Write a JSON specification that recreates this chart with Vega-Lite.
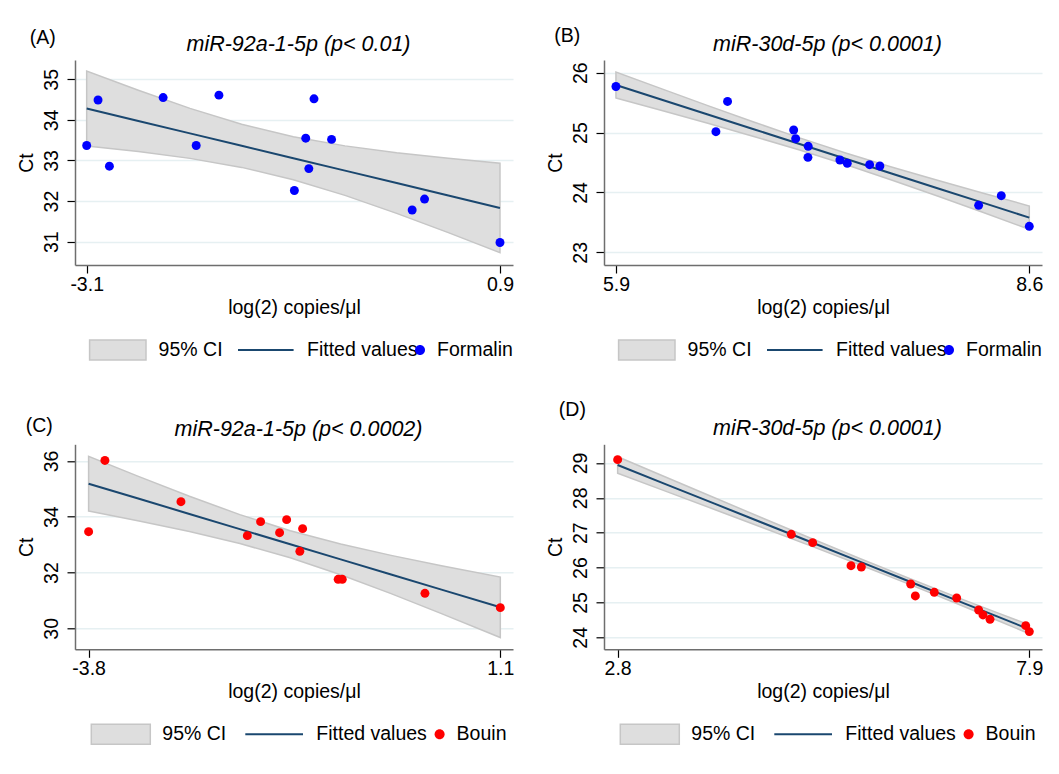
{
  "$schema": "https://vega.github.io/schema/vega-lite/v6.json",
  "background": "white",
  "padding": {"left": 16, "top": 26, "right": 0, "bottom": 0},
  "config": {
    "font": "Liberation Sans",
    "view": {"stroke": null},
    "axis": {"labelFont": "Liberation Sans", "titleFont": "Liberation Sans", "labelFontSize": 19.5, "titleFontSize": 19.5, "labelColor": "black", "titleColor": "black", "titleFontWeight": "normal", "tickColor": "black", "tickWidth": 1.2, "tickSize": 8, "domainColor": "#6e6e6e", "domainWidth": 1.5, "gridColor": "#e6f0f2", "gridWidth": 1.5},
    "title": {"font": "Liberation Sans", "fontSize": 19.5, "fontWeight": "normal", "color": "black"},
    "legend": {"labelFont": "Liberation Sans", "labelFontSize": 19.5, "labelColor": "black", "padding": 0, "symbolSize": 400, "labelOffset": 6, "labelLimit": 400, "direction": "horizontal", "orient": "none", "title": null}
  },
  "datasets": {
    "pts": [
      {"p": "A", "x": -3.1, "y": 33.37}, {"p": "A", "x": -2.99, "y": 34.49}, {"p": "A", "x": -2.88, "y": 32.86}, {"p": "A", "x": -2.36, "y": 34.55}, {"p": "A", "x": -2.04, "y": 33.37}, {"p": "A", "x": -1.82, "y": 34.61}, {"p": "A", "x": -1.09, "y": 32.26}, {"p": "A", "x": -0.98, "y": 33.55}, {"p": "A", "x": -0.95, "y": 32.8}, {"p": "A", "x": -0.9, "y": 34.52}, {"p": "A", "x": -0.73, "y": 33.52}, {"p": "A", "x": 0.05, "y": 31.78}, {"p": "A", "x": 0.17, "y": 32.05}, {"p": "A", "x": 0.9, "y": 30.98},
      {"p": "B", "x": 5.9, "y": 25.77}, {"p": "B", "x": 6.553, "y": 25.015}, {"p": "B", "x": 6.629, "y": 25.52}, {"p": "B", "x": 7.061, "y": 25.043}, {"p": "B", "x": 7.074, "y": 24.898}, {"p": "B", "x": 7.156, "y": 24.77}, {"p": "B", "x": 7.154, "y": 24.586}, {"p": "B", "x": 7.363, "y": 24.542}, {"p": "B", "x": 7.411, "y": 24.486}, {"p": "B", "x": 7.557, "y": 24.464}, {"p": "B", "x": 7.624, "y": 24.442}, {"p": "B", "x": 8.269, "y": 23.785}, {"p": "B", "x": 8.417, "y": 23.946}, {"p": "B", "x": 8.6, "y": 23.434},
      {"p": "C", "x": -3.8, "y": 33.466}, {"p": "C", "x": -3.606, "y": 36.02}, {"p": "C", "x": -2.701, "y": 34.542}, {"p": "C", "x": -1.911, "y": 33.323}, {"p": "C", "x": -1.753, "y": 33.825}, {"p": "C", "x": -1.527, "y": 33.43}, {"p": "C", "x": -1.443, "y": 33.897}, {"p": "C", "x": -1.253, "y": 33.574}, {"p": "C", "x": -1.286, "y": 32.761}, {"p": "C", "x": -0.83, "y": 31.757}, {"p": "C", "x": -0.781, "y": 31.757}, {"p": "C", "x": 0.203, "y": 31.255}, {"p": "C", "x": 1.1, "y": 30.741},
      {"p": "D", "x": 2.8, "y": 29.096}, {"p": "D", "x": 4.951, "y": 26.954}, {"p": "D", "x": 5.216, "y": 26.715}, {"p": "D", "x": 5.691, "y": 26.055}, {"p": "D", "x": 5.819, "y": 26.017}, {"p": "D", "x": 6.43, "y": 25.53}, {"p": "D", "x": 6.488, "y": 25.186}, {"p": "D", "x": 6.723, "y": 25.291}, {"p": "D", "x": 7.0, "y": 25.128}, {"p": "D", "x": 7.272, "y": 24.784}, {"p": "D", "x": 7.326, "y": 24.641}, {"p": "D", "x": 7.413, "y": 24.516}, {"p": "D", "x": 7.855, "y": 24.335}, {"p": "D", "x": 7.9, "y": 24.163}
    ],
    "fit": [
      {"p": "A", "x": -3.1, "fit": 34.28, "lo": 33.355, "hi": 35.205}, {"p": "A", "x": -2.6, "fit": 33.974, "lo": 33.219, "hi": 34.729}, {"p": "A", "x": -2.1, "fit": 33.668, "lo": 33.052, "hi": 34.284}, {"p": "A", "x": -1.6, "fit": 33.362, "lo": 32.83, "hi": 33.894}, {"p": "A", "x": -1.1, "fit": 33.056, "lo": 32.526, "hi": 33.586}, {"p": "A", "x": -0.6, "fit": 32.75, "lo": 32.14, "hi": 33.36}, {"p": "A", "x": -0.1, "fit": 32.444, "lo": 31.697, "hi": 33.191}, {"p": "A", "x": 0.4, "fit": 32.138, "lo": 31.222, "hi": 33.054}, {"p": "A", "x": 0.9, "fit": 31.83, "lo": 30.729, "hi": 32.931},
      {"p": "B", "x": 5.9, "fit": 25.794, "lo": 25.578, "hi": 26.01}, {"p": "B", "x": 6.2, "fit": 25.548, "lo": 25.367, "hi": 25.729}, {"p": "B", "x": 6.5, "fit": 25.302, "lo": 25.154, "hi": 25.45}, {"p": "B", "x": 6.8, "fit": 25.056, "lo": 24.935, "hi": 25.177}, {"p": "B", "x": 7.1, "fit": 24.809, "lo": 24.708, "hi": 24.911}, {"p": "B", "x": 7.4, "fit": 24.563, "lo": 24.466, "hi": 24.66}, {"p": "B", "x": 7.7, "fit": 24.317, "lo": 24.209, "hi": 24.425}, {"p": "B", "x": 8.0, "fit": 24.071, "lo": 23.94, "hi": 24.202}, {"p": "B", "x": 8.3, "fit": 23.825, "lo": 23.664, "hi": 23.986}, {"p": "B", "x": 8.6, "fit": 23.579, "lo": 23.384, "hi": 23.774},
      {"p": "C", "x": -3.8, "fit": 35.187, "lo": 34.206, "hi": 36.168}, {"p": "C", "x": -3.2, "fit": 34.644, "lo": 33.849, "hi": 35.439}, {"p": "C", "x": -2.6, "fit": 34.101, "lo": 33.468, "hi": 34.734}, {"p": "C", "x": -2.0, "fit": 33.558, "lo": 33.039, "hi": 34.077}, {"p": "C", "x": -1.4, "fit": 33.015, "lo": 32.528, "hi": 33.502}, {"p": "C", "x": -0.8, "fit": 32.472, "lo": 31.92, "hi": 33.024}, {"p": "C", "x": -0.2, "fit": 31.929, "lo": 31.242, "hi": 32.616}, {"p": "C", "x": 0.4, "fit": 31.386, "lo": 30.527, "hi": 32.245}, {"p": "C", "x": 1.1, "fit": 30.753, "lo": 29.669, "hi": 31.837},
      {"p": "D", "x": 2.8, "fit": 28.943, "lo": 28.707, "hi": 29.179}, {"p": "D", "x": 3.4, "fit": 28.388, "lo": 28.186, "hi": 28.59}, {"p": "D", "x": 4.0, "fit": 27.834, "lo": 27.666, "hi": 28.002}, {"p": "D", "x": 4.6, "fit": 27.279, "lo": 27.142, "hi": 27.416}, {"p": "D", "x": 5.2, "fit": 26.725, "lo": 26.615, "hi": 26.834}, {"p": "D", "x": 5.8, "fit": 26.17, "lo": 26.08, "hi": 26.26}, {"p": "D", "x": 6.4, "fit": 25.616, "lo": 25.533, "hi": 25.699}, {"p": "D", "x": 7.0, "fit": 25.061, "lo": 24.969, "hi": 25.153}, {"p": "D", "x": 7.5, "fit": 24.599, "lo": 24.489, "hi": 24.709}, {"p": "D", "x": 7.9, "fit": 24.229, "lo": 24.102, "hi": 24.356}
    ]
  },
  "columns": 2,
  "spacing": {"row": 179.3, "column": 91},
  "bounds": "flush",
  "resolve": {"scale": {"x": "independent", "y": "independent", "color": "independent", "fill": "independent", "stroke": "independent"}, "axis": {"x": "independent", "y": "independent"}, "legend": {"color": "independent", "fill": "independent", "stroke": "independent"}},
  "concat": [
    {
      "width": 438, "height": 205,
      "title": {"text": "(A)", "anchor": "start", "frame": "group", "dx": -45.2, "offset": -30, "baseline": "alphabetic"},
      "resolve": {"axis": {"x": "independent"}},
      "layer": [
        {"data": {"name": "fit"}, "transform": [{"filter": "datum.p === 'A'"}],
         "mark": {"type": "area", "stroke": "#c6c6c6", "strokeWidth": 1.5, "opacity": 1},
         "encoding": {
           "x": {"field": "x", "type": "quantitative", "scale": {"domain": [-3.213, 1.026], "nice": false, "zero": false}, "axis": null},
           "y": {"field": "lo", "type": "quantitative", "scale": {"domain": [30.425, 35.476], "nice": false, "zero": false}, "axis": {"title": "Ct", "values": [31, 32, 33, 34, 35], "grid": true, "labelAngle": -90, "labelAlign": "center", "labelBaseline": "alphabetic", "labelPadding": 9.5, "titlePadding": 5}},
           "y2": {"field": "hi"},
           "fill": {"datum": "95% CI", "scale": {"domain": ["95% CI"], "range": ["#dedede"]},
             "legend": {"legendX": 55.6, "legendY": 279,
               "encoding": {"symbols": {"shape": {"value": "M-5.2,-1H0.44V1H-5.2Z"}, "fill": {"value": "#dedede"}, "stroke": {"value": "#c6c6c6"}, "strokeWidth": {"value": 1.5}, "opacity": {"value": 1}}}}}
         }},
        {"data": {"name": "fit"}, "transform": [{"filter": "datum.p === 'A'"}],
         "mark": {"type": "line", "strokeWidth": 2},
         "encoding": {
           "x": {"field": "x", "type": "quantitative", "scale": {"domain": [-3.213, 1.026], "nice": false, "zero": false}, "axis": {"orient": "top", "domain": false, "ticks": false, "labels": false, "grid": false, "title": "miR-92a-1-5p (p< 0.01)", "titleFontStyle": "italic", "titleFontSize": 21.5, "titleX": 223, "titleY": -10, "titleAlign": "center", "titleBaseline": "alphabetic"}},
           "y": {"field": "fit", "type": "quantitative", "scale": {"domain": [30.425, 35.476], "nice": false, "zero": false}, "axis": {"title": "Ct", "values": [31, 32, 33, 34, 35], "grid": true, "labelAngle": -90, "labelAlign": "center", "labelBaseline": "alphabetic", "labelPadding": 9.5, "titlePadding": 5}},
           "stroke": {"datum": "Fitted values", "scale": {"domain": ["Fitted values"], "range": ["#1a476f"]},
             "legend": {"legendX": 204, "legendY": 279,
               "encoding": {"symbols": {"shape": {"value": "M-5.2,0H0.36"}, "fill": {"value": "transparent"}, "stroke": {"value": "#1a476f"}, "strokeWidth": {"value": 2}, "opacity": {"value": 1}}}}}
         }},
        {"data": {"name": "pts"}, "transform": [{"filter": "datum.p === 'A'"}],
         "mark": {"type": "circle", "size": 80, "opacity": 1},
         "encoding": {
           "x": {"field": "x", "type": "quantitative", "scale": {"domain": [-3.213, 1.026], "nice": false, "zero": false}, "axis": {"title": "log(2) copies/μl", "values": [-3.1, 0.9], "grid": false, "labelExpr": "datum.value < 0 ? '-' + format(-datum.value, '.1f') : format(datum.value, '.1f')", "labelPadding": 2, "titlePadding": 5}},
           "y": {"field": "y", "type": "quantitative", "scale": {"domain": [30.425, 35.476], "nice": false, "zero": false}, "axis": {"title": "Ct", "values": [31, 32, 33, 34, 35], "grid": true, "labelAngle": -90, "labelAlign": "center", "labelBaseline": "alphabetic", "labelPadding": 9.5, "titlePadding": 5}},
           "color": {"datum": "Formalin", "scale": {"domain": ["Formalin"], "range": ["#0000ff"]},
             "legend": {"legendX": 334, "legendY": 279,
               "encoding": {"symbols": {"shape": {"value": "M0.5,0A0.5,0.5,0,1,1,-0.5,0A0.5,0.5,0,1,1,0.5,0Z"}, "fill": {"value": "#0000ff"}, "stroke": {"value": "transparent"}, "opacity": {"value": 1}}}}}
         }}
      ]
    },
    {
      "width": 438, "height": 205,
      "title": {"text": "(B)", "anchor": "start", "frame": "group", "dx": -49.7, "offset": -28.6, "baseline": "alphabetic"},
      "resolve": {"axis": {"x": "independent"}},
      "layer": [
        {"data": {"name": "fit"}, "transform": [{"filter": "datum.p === 'B'"}],
         "mark": {"type": "area", "stroke": "#c6c6c6", "strokeWidth": 1.5, "opacity": 1},
         "encoding": {
           "x": {"field": "x", "type": "quantitative", "scale": {"domain": [5.822, 8.683], "nice": false, "zero": false}, "axis": null},
           "y": {"field": "lo", "type": "quantitative", "scale": {"domain": [22.788, 26.212], "nice": false, "zero": false}, "axis": {"title": "Ct", "values": [23, 24, 25, 26], "grid": true, "labelAngle": -90, "labelAlign": "center", "labelBaseline": "alphabetic", "labelPadding": 9.5, "titlePadding": 5}},
           "y2": {"field": "hi"},
           "fill": {"datum": "95% CI", "scale": {"domain": ["95% CI"], "range": ["#dedede"]},
             "legend": {"legendX": 55.6, "legendY": 279,
               "encoding": {"symbols": {"shape": {"value": "M-5.2,-1H0.44V1H-5.2Z"}, "fill": {"value": "#dedede"}, "stroke": {"value": "#c6c6c6"}, "strokeWidth": {"value": 1.5}, "opacity": {"value": 1}}}}}
         }},
        {"data": {"name": "fit"}, "transform": [{"filter": "datum.p === 'B'"}],
         "mark": {"type": "line", "strokeWidth": 2},
         "encoding": {
           "x": {"field": "x", "type": "quantitative", "scale": {"domain": [5.822, 8.683], "nice": false, "zero": false}, "axis": {"orient": "top", "domain": false, "ticks": false, "labels": false, "grid": false, "title": "miR-30d-5p (p< 0.0001)", "titleFontStyle": "italic", "titleFontSize": 21.5, "titleX": 223, "titleY": -10, "titleAlign": "center", "titleBaseline": "alphabetic"}},
           "y": {"field": "fit", "type": "quantitative", "scale": {"domain": [22.788, 26.212], "nice": false, "zero": false}, "axis": {"title": "Ct", "values": [23, 24, 25, 26], "grid": true, "labelAngle": -90, "labelAlign": "center", "labelBaseline": "alphabetic", "labelPadding": 9.5, "titlePadding": 5}},
           "stroke": {"datum": "Fitted values", "scale": {"domain": ["Fitted values"], "range": ["#1a476f"]},
             "legend": {"legendX": 204, "legendY": 279,
               "encoding": {"symbols": {"shape": {"value": "M-5.2,0H0.36"}, "fill": {"value": "transparent"}, "stroke": {"value": "#1a476f"}, "strokeWidth": {"value": 2}, "opacity": {"value": 1}}}}}
         }},
        {"data": {"name": "pts"}, "transform": [{"filter": "datum.p === 'B'"}],
         "mark": {"type": "circle", "size": 80, "opacity": 1},
         "encoding": {
           "x": {"field": "x", "type": "quantitative", "scale": {"domain": [5.822, 8.683], "nice": false, "zero": false}, "axis": {"title": "log(2) copies/μl", "values": [5.9, 8.6], "grid": false, "format": ".1f", "labelPadding": 2, "titlePadding": 5}},
           "y": {"field": "y", "type": "quantitative", "scale": {"domain": [22.788, 26.212], "nice": false, "zero": false}, "axis": {"title": "Ct", "values": [23, 24, 25, 26], "grid": true, "labelAngle": -90, "labelAlign": "center", "labelBaseline": "alphabetic", "labelPadding": 9.5, "titlePadding": 5}},
           "color": {"datum": "Formalin", "scale": {"domain": ["Formalin"], "range": ["#0000ff"]},
             "legend": {"legendX": 334, "legendY": 279,
               "encoding": {"symbols": {"shape": {"value": "M0.5,0A0.5,0.5,0,1,1,-0.5,0A0.5,0.5,0,1,1,0.5,0Z"}, "fill": {"value": "#0000ff"}, "stroke": {"value": "transparent"}, "opacity": {"value": 1}}}}}
         }}
      ]
    },
    {
      "width": 438, "height": 205,
      "title": {"text": "(C)", "anchor": "start", "frame": "group", "dx": -49.3, "offset": -32.4, "baseline": "alphabetic"},
      "resolve": {"axis": {"x": "independent"}},
      "layer": [
        {"data": {"name": "fit"}, "transform": [{"filter": "datum.p === 'C'"}],
         "mark": {"type": "area", "stroke": "#c6c6c6", "strokeWidth": 1.5, "opacity": 1},
         "encoding": {
           "x": {"field": "x", "type": "quantitative", "scale": {"domain": [-3.962, 1.251], "nice": false, "zero": false}, "axis": null},
           "y": {"field": "lo", "type": "quantitative", "scale": {"domain": [29.247, 36.599], "nice": false, "zero": false}, "axis": {"title": "Ct", "values": [30, 32, 34, 36], "grid": true, "labelAngle": -90, "labelAlign": "center", "labelBaseline": "alphabetic", "labelPadding": 9.5, "titlePadding": 5}},
           "y2": {"field": "hi"},
           "fill": {"datum": "95% CI", "scale": {"domain": ["95% CI"], "range": ["#dedede"]},
             "legend": {"legendX": 59.3, "legendY": 279,
               "encoding": {"symbols": {"shape": {"value": "M-5.4,-1H0.5V1H-5.4Z"}, "fill": {"value": "#dedede"}, "stroke": {"value": "#c6c6c6"}, "strokeWidth": {"value": 1.5}, "opacity": {"value": 1}}}}}
         }},
        {"data": {"name": "fit"}, "transform": [{"filter": "datum.p === 'C'"}],
         "mark": {"type": "line", "strokeWidth": 2},
         "encoding": {
           "x": {"field": "x", "type": "quantitative", "scale": {"domain": [-3.962, 1.251], "nice": false, "zero": false}, "axis": {"orient": "top", "domain": false, "ticks": false, "labels": false, "grid": false, "title": "miR-92a-1-5p (p< 0.0002)", "titleFontStyle": "italic", "titleFontSize": 21.5, "titleX": 223, "titleY": -8.6, "titleAlign": "center", "titleBaseline": "alphabetic"}},
           "y": {"field": "fit", "type": "quantitative", "scale": {"domain": [29.247, 36.599], "nice": false, "zero": false}, "axis": {"title": "Ct", "values": [30, 32, 34, 36], "grid": true, "labelAngle": -90, "labelAlign": "center", "labelBaseline": "alphabetic", "labelPadding": 9.5, "titlePadding": 5}},
           "stroke": {"datum": "Fitted values", "scale": {"domain": ["Fitted values"], "range": ["#1a476f"]},
             "legend": {"legendX": 213.3, "legendY": 279,
               "encoding": {"symbols": {"shape": {"value": "M-5.4,0H0.37"}, "fill": {"value": "transparent"}, "stroke": {"value": "#1a476f"}, "strokeWidth": {"value": 2}, "opacity": {"value": 1}}}}}
         }},
        {"data": {"name": "pts"}, "transform": [{"filter": "datum.p === 'C'"}],
         "mark": {"type": "circle", "size": 80, "opacity": 1},
         "encoding": {
           "x": {"field": "x", "type": "quantitative", "scale": {"domain": [-3.962, 1.251], "nice": false, "zero": false}, "axis": {"title": "log(2) copies/μl", "values": [-3.8, 1.1], "grid": false, "labelExpr": "datum.value < 0 ? '-' + format(-datum.value, '.1f') : format(datum.value, '.1f')", "labelPadding": 2, "titlePadding": 5}},
           "y": {"field": "y", "type": "quantitative", "scale": {"domain": [29.247, 36.599], "nice": false, "zero": false}, "axis": {"title": "Ct", "values": [30, 32, 34, 36], "grid": true, "labelAngle": -90, "labelAlign": "center", "labelBaseline": "alphabetic", "labelPadding": 9.5, "titlePadding": 5}},
           "color": {"datum": "Bouin", "scale": {"domain": ["Bouin"], "range": ["#ff0000"]},
             "legend": {"legendX": 353.6, "legendY": 279,
               "encoding": {"symbols": {"shape": {"value": "M0.5,0A0.5,0.5,0,1,1,-0.5,0A0.5,0.5,0,1,1,0.5,0Z"}, "fill": {"value": "#ff0000"}, "stroke": {"value": "transparent"}, "opacity": {"value": 1}}}}}
         }}
      ]
    },
    {
      "width": 438, "height": 205,
      "title": {"text": "(D)", "anchor": "start", "frame": "group", "dx": -45.2, "offset": -18.7, "baseline": "alphabetic"},
      "resolve": {"axis": {"x": "independent"}},
      "layer": [
        {"data": {"name": "fit"}, "transform": [{"filter": "datum.p === 'D'"}],
         "mark": {"type": "area", "stroke": "#c6c6c6", "strokeWidth": 1.5, "opacity": 1},
         "encoding": {
           "x": {"field": "x", "type": "quantitative", "scale": {"domain": [2.631, 8.057], "nice": false, "zero": false}, "axis": null},
           "y": {"field": "lo", "type": "quantitative", "scale": {"domain": [23.656, 29.536], "nice": false, "zero": false}, "axis": {"title": "Ct", "values": [24, 25, 26, 27, 28, 29], "grid": true, "labelAngle": -90, "labelAlign": "center", "labelBaseline": "alphabetic", "labelPadding": 9.5, "titlePadding": 5}},
           "y2": {"field": "hi"},
           "fill": {"datum": "95% CI", "scale": {"domain": ["95% CI"], "range": ["#dedede"]},
             "legend": {"legendX": 59.3, "legendY": 279,
               "encoding": {"symbols": {"shape": {"value": "M-5.4,-1H0.5V1H-5.4Z"}, "fill": {"value": "#dedede"}, "stroke": {"value": "#c6c6c6"}, "strokeWidth": {"value": 1.5}, "opacity": {"value": 1}}}}}
         }},
        {"data": {"name": "fit"}, "transform": [{"filter": "datum.p === 'D'"}],
         "mark": {"type": "line", "strokeWidth": 2},
         "encoding": {
           "x": {"field": "x", "type": "quantitative", "scale": {"domain": [2.631, 8.057], "nice": false, "zero": false}, "axis": {"orient": "top", "domain": false, "ticks": false, "labels": false, "grid": false, "title": "miR-30d-5p (p< 0.0001)", "titleFontStyle": "italic", "titleFontSize": 21.5, "titleX": 223, "titleY": -10.3, "titleAlign": "center", "titleBaseline": "alphabetic"}},
           "y": {"field": "fit", "type": "quantitative", "scale": {"domain": [23.656, 29.536], "nice": false, "zero": false}, "axis": {"title": "Ct", "values": [24, 25, 26, 27, 28, 29], "grid": true, "labelAngle": -90, "labelAlign": "center", "labelBaseline": "alphabetic", "labelPadding": 9.5, "titlePadding": 5}},
           "stroke": {"datum": "Fitted values", "scale": {"domain": ["Fitted values"], "range": ["#1a476f"]},
             "legend": {"legendX": 213.3, "legendY": 279,
               "encoding": {"symbols": {"shape": {"value": "M-5.4,0H0.37"}, "fill": {"value": "transparent"}, "stroke": {"value": "#1a476f"}, "strokeWidth": {"value": 2}, "opacity": {"value": 1}}}}}
         }},
        {"data": {"name": "pts"}, "transform": [{"filter": "datum.p === 'D'"}],
         "mark": {"type": "circle", "size": 80, "opacity": 1},
         "encoding": {
           "x": {"field": "x", "type": "quantitative", "scale": {"domain": [2.631, 8.057], "nice": false, "zero": false}, "axis": {"title": "log(2) copies/μl", "values": [2.8, 7.9], "grid": false, "format": ".1f", "labelPadding": 2, "titlePadding": 5}},
           "y": {"field": "y", "type": "quantitative", "scale": {"domain": [23.656, 29.536], "nice": false, "zero": false}, "axis": {"title": "Ct", "values": [24, 25, 26, 27, 28, 29], "grid": true, "labelAngle": -90, "labelAlign": "center", "labelBaseline": "alphabetic", "labelPadding": 9.5, "titlePadding": 5}},
           "color": {"datum": "Bouin", "scale": {"domain": ["Bouin"], "range": ["#ff0000"]},
             "legend": {"legendX": 353.6, "legendY": 279,
               "encoding": {"symbols": {"shape": {"value": "M0.5,0A0.5,0.5,0,1,1,-0.5,0A0.5,0.5,0,1,1,0.5,0Z"}, "fill": {"value": "#ff0000"}, "stroke": {"value": "transparent"}, "opacity": {"value": 1}}}}}
         }}
      ]
    }
  ]
}
